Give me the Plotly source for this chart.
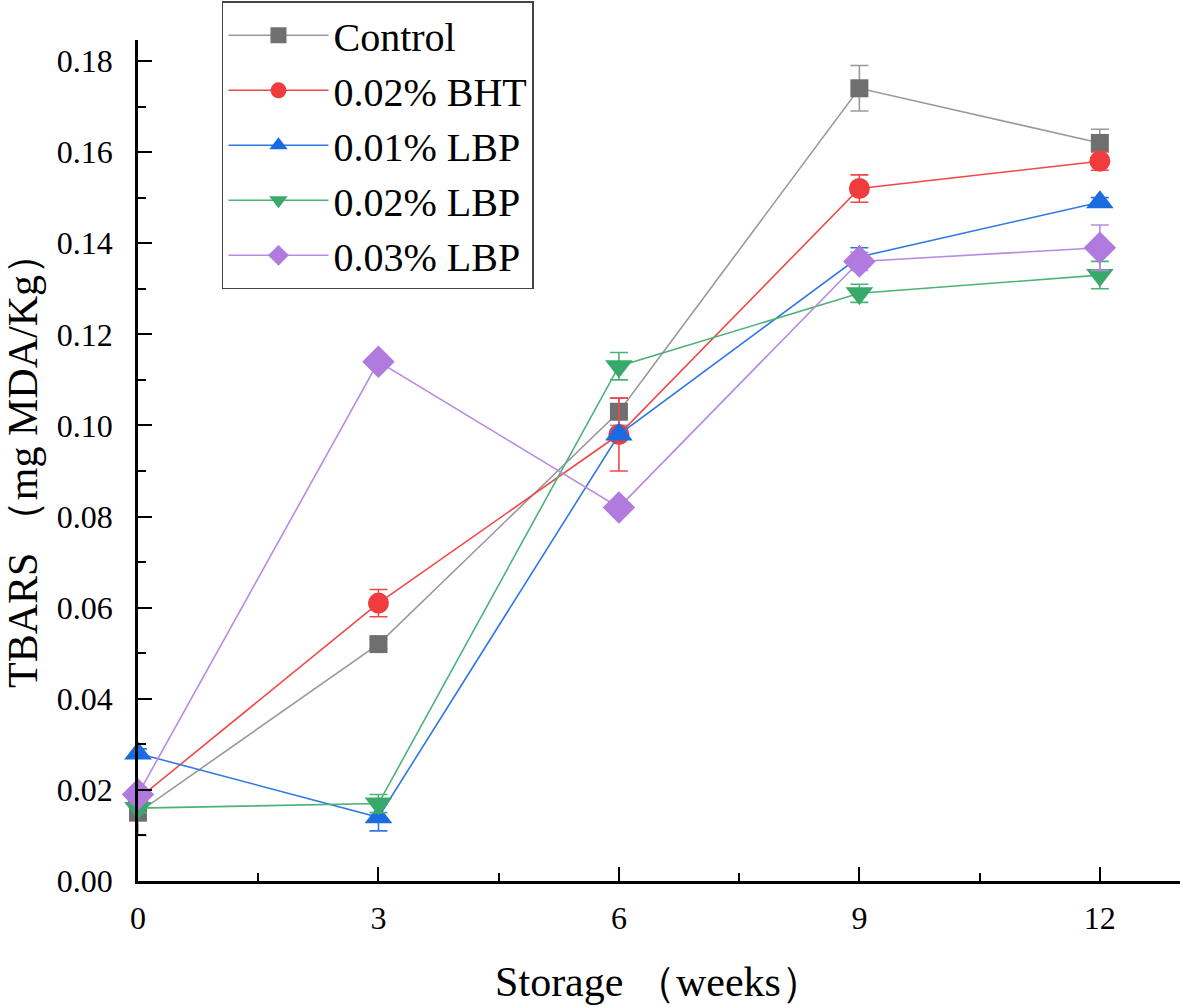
import plotly.graph_objects as go

weeks = [0, 3, 6, 9, 12]
series_names = ["Control", "0.02% BHT", "0.01% LBP", "0.02% LBP", "0.03% LBP"]
control = [0.015, 0.052, 0.103, 0.174, 0.162]
control_err = [0.005, 0.001, 0.003, 0.005, 0.003]
bht = [0.018, 0.061, 0.098, 0.152, 0.158]
bht_err = [0.002, 0.003, 0.008, 0.003, 0.002]
lbp01 = [0.028, 0.014, 0.098, 0.137, 0.149]
lbp01_err = [0.001, 0.003, 0.001, 0.002, 0.001]
lbp02 = [0.016, 0.017, 0.113, 0.129, 0.133]
lbp02_err = [0.001, 0.002, 0.003, 0.002, 0.003]
lbp03 = [0.019, 0.114, 0.082, 0.136, 0.139]
lbp03_err = [0.001, 0.001, 0.001, 0.002, 0.005]

x_ticks = [0, 3, 6, 9, 12]
x_ticktext = ["0", "3", "6", "9", "12"]
x_minor = [1.5, 4.5, 7.5, 10.5]
y_ticks = [0, 0.02, 0.04, 0.06, 0.08, 0.10, 0.12, 0.14, 0.16, 0.18]
y_ticktext = ["0.00", "0.02", "0.04", "0.06", "0.08", "0.10", "0.12", "0.14", "0.16", "0.18"]
y_minor = [0.01, 0.03, 0.05, 0.07, 0.09, 0.11, 0.13, 0.15, 0.17]

values = [control, bht, lbp01, lbp02, lbp03]
errors = [control_err, bht_err, lbp01_err, lbp02_err, lbp03_err]
colors = ["#6f6f6f", "#f03c3c", "#1b6be0", "#38a96a", "#b07ade"]
line_colors = ["#999999", "#f04848", "#2f78e4", "#4cb278", "#b98ae2"]
symbols = ["square", "circle", "triangle-up", "triangle-down", "diamond"]
sizes = [18, 21, 24, 24, 25]

fig = go.Figure()
for name, v, e, c, lc, s, sz in zip(series_names, values, errors, colors, line_colors, symbols, sizes):
    fig.add_trace(go.Scatter(
        x=weeks, y=v, name=name, mode="lines+markers",
        line=dict(color=lc, width=1.6),
        marker=dict(symbol=s, size=sz, color=c, line=dict(width=0)),
        error_y=dict(type="data", array=e, visible=True, color=lc, thickness=1.6, width=9),
        cliponaxis=False,
    ))

ff = "Liberation Serif, Times New Roman, serif"
fig.update_layout(
    width=1181, height=1007,
    paper_bgcolor="white", plot_bgcolor="white",
    margin=dict(l=138, r=1, t=40, b=126),
    font=dict(family=ff, color="black", size=32),
    showlegend=True,
    legend=dict(
        x=0.0806, y=1.046, xanchor="left", yanchor="top",
        bordercolor="#444444", borderwidth=1.5, bgcolor="white",
        font=dict(size=40, family=ff, color="black"),
        itemwidth=100, tracegroupgap=0,
    ),
    xaxis=dict(
        range=[0, 13], tickvals=x_ticks, ticktext=x_ticktext,
        ticks="inside", ticklen=14, tickwidth=2, tickcolor="black",
        showline=True, linecolor="black", linewidth=2.5,
        showgrid=False, zeroline=False, automargin=False,
        minor=dict(tickvals=x_minor, ticks="inside", ticklen=8, tickwidth=2, tickcolor="black"),
        title=dict(text="Storage （weeks）", font=dict(size=42, family=ff), standoff=32),
        tickfont=dict(size=32, family=ff), ticklabelstandoff=7,
    ),
    yaxis=dict(
        range=[0, 0.1846], tickvals=y_ticks, ticktext=y_ticktext,
        ticks="inside", ticklen=14, tickwidth=2, tickcolor="black",
        showline=True, linecolor="black", linewidth=2.5,
        showgrid=False, zeroline=False, automargin=False,
        minor=dict(tickvals=y_minor, ticks="inside", ticklen=8, tickwidth=2, tickcolor="black"),
        title=dict(text="TBARS （mg MDA/Kg）", font=dict(size=42, family=ff), standoff=10),
        tickfont=dict(size=32, family=ff), ticklabelstandoff=16,
    ),
)

fig.write_html("out.html", config={"displayModeBar": False},
               post_script="document.body.style.margin='0';")
